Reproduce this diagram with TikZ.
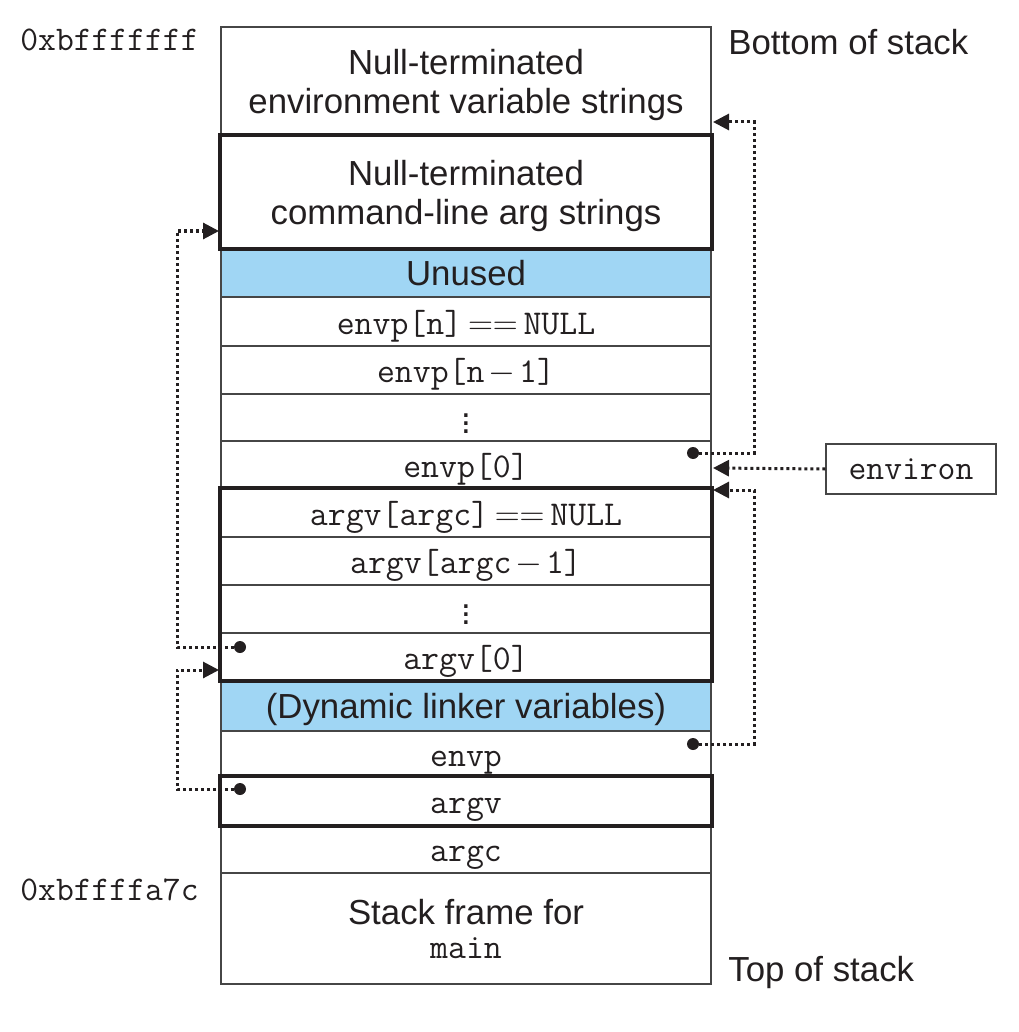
\documentclass[tikz,border=0pt]{standalone}
\usepackage{fontspec}
\setmainfont{Liberation Sans}
\usetikzlibrary{arrows.meta}
\definecolor{linegray}{RGB}{70,70,70}
\definecolor{ink}{RGB}{35,31,32}
\definecolor{unusedblue}{RGB}{160,214,244}
\begin{document}
\begin{tikzpicture}[x=0.5pt, y=-0.5pt,
  font=\fontsize{17.4}{19.5}\selectfont, text=ink,
  row/.style={draw=linegray, line width=0.75pt, minimum width=245pt, inner sep=0pt, align=center},
  oneline/.style={text height=12.8pt, text depth=0pt},
  twoline/.style={text depth=0pt},
  blue/.style={fill=unusedblue},
  thickbox/.style={draw=ink, line width=2pt},
  ptr/.style={draw=ink, line width=1.5pt, dash pattern=on 1.5pt off 1.5pt, -{Triangle[length=8pt,width=8pt]}},
  addr/.style={anchor=west, inner sep=0pt, font=\fontsize{17.3}{19.5}\selectfont\ttfamily},
  side/.style={anchor=west, inner sep=0pt},
  dotmark/.style={fill=ink}]
\useasboundingbox (0,0) rectangle (1018,1032);

% rows
\node[row, twoline, minimum height=54.5pt] (envstr) at (466,81.5) {Null-terminated\\environment variable strings};
\node[row, twoline, minimum height=56pt] (cmdstr) at (466,192) {Null-terminated\\command-line arg strings};
\node[row, oneline, blue, minimum height=24.5pt] (unused) at (466,272.5) {Unused};
\node[row, oneline, minimum height=24.5pt] (envpn) at (466,321.5) {\texttt{envp[n]}$\,==\,$\texttt{NULL}};
\node[row, oneline, minimum height=24pt] (envpn1) at (466,370) {\texttt{envp[n}$\mkern2mu-\mkern2mu$\texttt{1]}};
\node[row, minimum height=23.5pt] (edots) at (466,417.5) {$\vdots$};
\node[row, oneline, minimum height=24pt] (envp0) at (466,465) {\texttt{envp[0]}};
\node[row, oneline, minimum height=24pt] (argvnull) at (466,513) {\texttt{argv[argc]}$\,==\,$\texttt{NULL}};
\node[row, oneline, minimum height=24pt] (argvc1) at (466,561) {\texttt{argv[argc}$\mkern2mu-\mkern2mu$\texttt{1]}};
\node[row, minimum height=24pt] (adots) at (466,609) {$\vdots$};
\node[row, oneline, minimum height=23.5pt] (argv0) at (466,656.5) {\texttt{argv[0]}};
\node[row, oneline, blue, minimum height=25.5pt] (dyn) at (466,705.5) {(Dynamic linker variables)};
\node[row, oneline, minimum height=23pt] (envp) at (466,754) {\texttt{envp}};
\node[row, oneline, minimum height=24pt] (argv) at (466,801) {\texttt{argv}};
\node[row, oneline, minimum height=24pt] (argc) at (466,849) {\texttt{argc}};
\node[row, twoline, minimum height=55.5pt] (frame) at (466,928.5) {Stack frame for\\[-2.5pt]\texttt{main}};

% thick group boxes
\draw[thickbox] (cmdstr.north west) rectangle (cmdstr.south east);
\draw[thickbox] (argvnull.north west) rectangle (argv0.south east);
\draw[thickbox] (argv.north west) rectangle (argv.south east);

% side labels
\node[addr] (addrtop) at (20,40) {0xbfffffff};
\node[addr] (addrbot) at (20,890) {0xbffffa7c};
\node[side] (bottomlbl) at (728,42) {Bottom of stack};
\node[side] (toplbl) at (728,972) {Top of stack};

% environ box
\node[draw=linegray, line width=0.75pt, minimum width=85pt, minimum height=25pt, inner sep=0pt,
      font=\fontsize{17.3}{19.5}\selectfont\ttfamily] (environ) at (911,469) {environ};

% pointer start points and targets
\coordinate (d1) at (693,453);
\coordinate (a1) at (713,122);
\coordinate (a2) at (713,468);
\coordinate (d3) at (693,744);
\coordinate (a3) at (713,490);
\coordinate (d4) at (240,647);
\coordinate (a4) at (219,231);
\coordinate (d5) at (240,789);
\coordinate (a5) at (219,670);

\fill[dotmark] (d1) circle (3pt);
\fill[dotmark] (d3) circle (3pt);
\fill[dotmark] (d4) circle (3pt);
\fill[dotmark] (d5) circle (3pt);

\draw[ptr] (d1) -- ++(61,0) |- (a1);
\draw[ptr] (environ.west) -- (a2);
\draw[ptr] (d3) -- ++(61,0) |- (a3);
\draw[ptr] (d4) -- ++(-63,0) |- (a4);
\draw[ptr] (d5) -- ++(-63,0) |- (a5);
\end{tikzpicture}
\end{document}
